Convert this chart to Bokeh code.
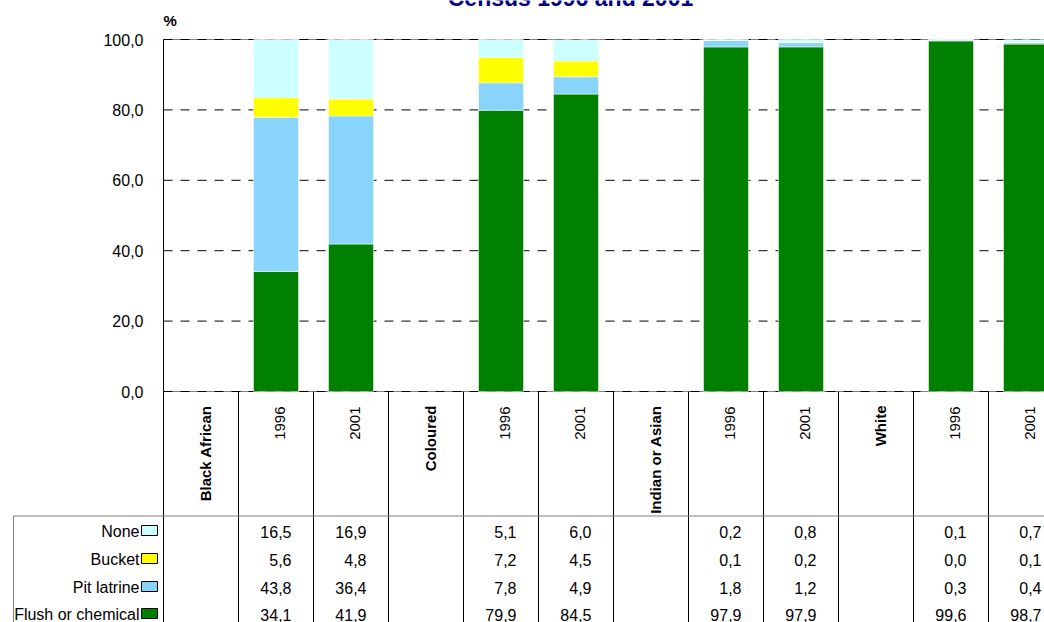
import math
from bokeh.plotting import figure
from bokeh.models import ColumnDataSource, Range1d
from bokeh.embed import file_html
from bokeh.resources import INLINE
from bokeh.core.properties import value

# ---------------- data ----------------
title_text = "Census 1996 and 2001"
groups = ["Black African", "Coloured", "Indian or Asian", "White"]
years = ["1996", "2001"]
flush = [34.1, 41.9, 79.9, 84.5, 97.9, 97.9, 99.6, 98.7]
pit = [43.8, 36.4, 7.8, 4.9, 1.8, 1.2, 0.3, 0.4]
bucket = [5.6, 4.8, 7.2, 4.5, 0.1, 0.2, 0.0, 0.1]
none = [16.5, 16.9, 5.1, 6.0, 0.2, 0.8, 0.1, 0.7]
series_names = ["Flush or chemical", "Pit latrine", "Bucket", "None"]
series_colors = ["#008000", "#88D4FA", "#FFFF00", "#CCFFFF"]
y_ticks = [0, 20, 40, 60, 80, 100]
y_unit = "%"

# ---------------- geometry (pixels of the page) ----------------
FONT = "Liberation Sans"
W, H = 1044, 622
AX_X = 163          # left edge of plot area
TOP_Y, ZERO_Y = 39, 391
SLOT = 75.0
PPU = (ZERO_Y - TOP_Y) / 100.0   # pixels per percent


def yv(py):
    """page pixel row -> y value"""
    return (ZERO_Y - py) / PPU


def xv(px):
    """page pixel column -> x value (slot units)"""
    return (px - AX_X) / SLOT


x_start, x_end = xv(0), xv(W)
y_start, y_end = yv(H), yv(0)

# slot layout: group label column, then one column per year
slot_labels, slot_bold = [], []
for g in groups:
    slot_labels.append(g)
    slot_bold.append(True)
    for yr in years:
        slot_labels.append(yr)
        slot_bold.append(False)
bar_slots = [i for i, b in enumerate(slot_bold) if not b]
bar_x = [i + 0.5 for i in bar_slots]
n_slots = len(slot_labels)

p = figure(width=W, height=H, x_range=Range1d(x_start, x_end), y_range=Range1d(y_start, y_end),
           output_backend="svg", toolbar_location=None, x_axis_location=None,
           y_axis_location=None, min_border=0, outline_line_color=None,
           background_fill_color="white", border_fill_color="white")
p.grid.visible = False

# plot-area border (top/bottom) and dashed gridlines
p.segment(x0=[0, 0], y0=[0, 100], x1=[x_end, x_end], y1=[0, 100],
          line_color="#808080", line_width=1)
p.segment(x0=[0] * len(y_ticks), y0=y_ticks, x1=[x_end] * len(y_ticks), y1=y_ticks,
          line_color="black", line_width=1, line_dash="9 8")

# stacked bars
src = ColumnDataSource(dict(x=bar_x, flush=flush, pit=pit, bucket=bucket, none=none))
p.vbar_stack(["flush", "pit", "bucket", "none"], x="x", width=0.6, source=src,
             fill_color=series_colors, line_color="white", line_alpha=0.5, line_width=1)

# value axis line + labels
p.segment(x0=[0], y0=[100], x1=[0], y1=[0], line_color="black", line_width=1)
p.text(x=[0] * len(y_ticks), y=y_ticks, text=[f"{t:.1f}".replace(".", ",") for t in y_ticks],
       x_offset=-20, text_align="right", text_baseline="middle", text_font=value(FONT),
       text_font_size="16px", text_color="black")
p.text(x=[0], y=[yv(11)], text=[y_unit], text_align="left", text_baseline="top",
       text_font=value(FONT), text_font_size="15px", text_font_style="bold",
       text_color="black")

# title (cut off at top, as in the reference)
p.text(x=[xv(570)], y=[yv(-3)], text=[title_text], text_align="center",
       text_baseline="alphabetic", text_font=value(FONT), text_font_size="23px",
       text_font_style="bold", text_color="#000080")

# ---------------- data table ----------------
col_x = list(range(n_slots + 1))
p.segment(x0=col_x, y0=[0] * len(col_x), x1=col_x, y1=[y_start] * len(col_x),
          line_color="black", line_width=1)

tbl_top = yv(515.5)
tbl_left = xv(13)
p.segment(x0=[tbl_left, tbl_left], y0=[tbl_top, tbl_top], x1=[x_end, tbl_left],
          y1=[tbl_top, y_start], line_color="#808080", line_width=1)

# header labels (rotated)
grp_idx = [i for i, b in enumerate(slot_bold) if b]
p.text(x=[i + 0.5 for i in grp_idx], y=[yv(405)] * len(grp_idx),
       text=[slot_labels[i] for i in grp_idx], angle=math.pi / 2, x_offset=4,
       text_align="right", text_baseline="middle", text_font=value(FONT),
       text_font_size="15px", text_font_style="bold", text_color="black")
p.text(x=bar_x, y=[yv(406)] * len(bar_x), text=[slot_labels[i] for i in bar_slots],
       angle=math.pi / 2, x_offset=4, text_align="right", text_baseline="middle",
       text_font=value(FONT), text_font_size="15px", text_color="black")

# legend rows + values
row_names = ["None", "Bucket", "Pit latrine", "Flush or chemical"]
row_vals = [none, bucket, pit, flush]
row_cols = ["#CCFFFF", "#FFFF00", "#88D4FA", "#008000"]
row_y = [yv(v) for v in (531, 559, 587, 614)]

p.text(x=[xv(139)] * 4, y=row_y, text=row_names, text_align="right",
       text_baseline="middle", text_font=value(FONT), text_font_size="16px",
       text_color="black")
p.rect(x=[xv(149)] * 4, y=[r + 1 / PPU for r in row_y], width=16, height=10,
       width_units="screen", height_units="screen", fill_color=row_cols,
       line_color="black", line_width=1)

vx, vy, vt = [], [], []
for vals, ry in zip(row_vals, row_y):
    for s, v in zip(bar_slots, vals):
        vx.append(s + 1 - 22 / SLOT)
        vy.append(ry)
        vt.append(f"{v:.1f}".replace(".", ","))
p.text(x=vx, y=vy, text=vt, text_align="right", text_baseline="middle",
       text_font=value(FONT), text_font_size="16px", text_color="black")

open("out.html", "w").write(file_html(p, INLINE))
